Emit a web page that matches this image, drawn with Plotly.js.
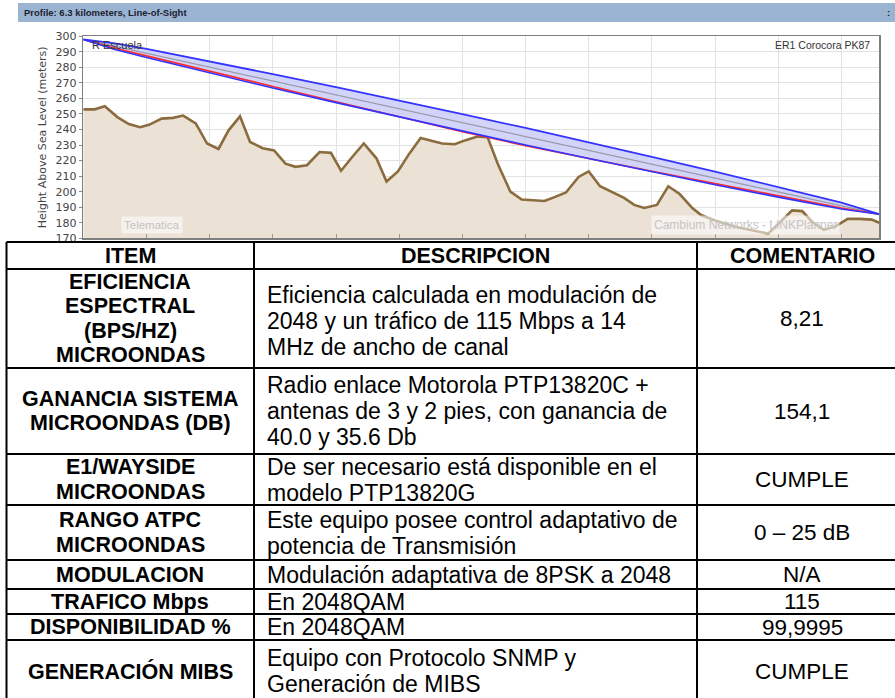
<!DOCTYPE html>
<html>
<head>
<meta charset="utf-8">
<script src="https://cdn.plot.ly/plotly-3.0.1.min.js"></script>
<style>html,body{margin:0;padding:0;background:#fff;}#chart{width:895px;height:698px;}</style>
</head>
<body>
<div id="chart"></div>
<script>
// ---- profile data (km, metres) ----
const terrainKm = [0,0.09,0.17,0.27,0.36,0.45,0.52,0.62,0.71,0.79,0.89,0.98,1.07,1.15,1.24,1.32,1.42,1.51,1.60,1.68,1.77,1.87,1.96,2.04,2.13,2.22,2.32,2.40,2.49,2.58,2.67,2.75,2.84,2.94,3.02,3.12,3.20,3.28,3.38,3.47,3.56,3.65,3.73,3.82,3.92,4.00,4.09,4.18,4.28,4.36,4.44,4.54,4.63,4.72,4.82,4.89,5.00,5.16,5.32,5.42,5.51,5.61,5.69,5.77,5.86,5.95,6.05,6.14,6.24,6.30];
const terrainM = [253,253,255,248,243.5,241.5,243,247,247.5,249,244,231,227.5,239.5,248.5,232,228,226.5,218,216,217,225.5,225,213.5,222.5,231,221.5,206.5,213,224.5,234.5,233,231,230.5,233,235.5,235,218,200,195,194.5,194,196.5,199.5,209.5,213,203.5,200,196,191.5,189.5,191.5,203.5,198.5,189.5,185,181.5,177.5,175,173,180,188,187.5,180.5,175.5,177.5,182.5,182.5,182,180];
const losKm = [0,0.25,0.5,1,1.5,2,2.5,3,3.5,4,4.5,5,5.5,6,6.3];
const losCenter = [298,293.5,289.1,280.1,271.2,262.3,253.4,244.4,235.5,226.6,217.6,208.7,199.8,190.9,185.5];
const fresnelUpper = [298,295.5,291.9,283.9,275.7,267.3,258.7,249.9,241.0,231.8,222.4,212.9,203.1,192.9,185.5];
const fresnelLower = [298,291.5,286.3,276.3,266.7,257.3,248.1,238.9,230.0,221.4,212.8,204.5,196.5,188.9,185.5];
const redLine = [298,292.3,287.4,277.4,267.7,257.9,248.3,238.6,229.6,221.3,213.1,205.2,197.3,189.5,185.5];

const profileTitle = 'Profile: 6.3 kilometers, Line-of-Sight';
const siteLeft = 'R Escuela';
const siteRight = 'ER1 Corocora PK87';
const yAxisTitle = 'Height Above Sea Level (meters)';
const watermarkLeft = 'Telematica';
const watermarkRight = 'Cambium Networks - LINKPlanner';

// ---- table data ----
const headers = ['ITEM', 'DESCRIPCION', 'COMENTARIO'];
const items = ['EFICIENCIA<br>ESPECTRAL<br>(BPS/HZ)<br>MICROONDAS', 'GANANCIA SISTEMA<br>MICROONDAS (DB)', 'E1/WAYSIDE<br>MICROONDAS', 'RANGO ATPC<br>MICROONDAS', 'MODULACION', 'TRAFICO Mbps', 'DISPONIBILIDAD %', 'GENERACIÓN MIBS'];
const descriptions = ['Eficiencia calculada en modulación de<br>2048 y un tráfico de 115 Mbps a 14<br>MHz de ancho de canal', 'Radio enlace Motorola PTP13820C +<br>antenas de 3 y 2 pies, con ganancia de<br>40.0 y 35.6 Db', 'De ser necesario está disponible en el<br>modelo PTP13820G', 'Este equipo posee control adaptativo de<br>potencia de Transmisión', 'Modulación adaptativa de 8PSK a 2048', 'En 2048QAM', 'En 2048QAM', 'Equipo con Protocolo SNMP y<br>Generación de MIBS'];
const comments = ['8,21', '154,1', 'CUMPLE', '0 – 25 dB', 'N/A', '115', '99,9995', 'CUMPLE'];

// ---- layout geometry (pixels) ----
const W = 895, H = 698;
const plotL = 83.3, plotR = 879.3, plotT = 36.3, plotB = 238.3;
const tableTop = 242, headerBottom = 269;
const rowEdges = [269, 368, 454, 505, 560, 589, 614, 640, 702];
const colEdges = [6.5, 254, 697, 907];
const col1C = 130, col2L = 265, col3C = 802;
const FONT = 'Liberation Sans, Arial, sans-serif';

const traces = [
  {x: terrainKm, y: terrainM, type: 'scatter', mode: 'lines', fill: 'tozeroy', fillcolor: '#ebe1d5',
   line: {color: '#8b6c3e', width: 2.6}, hoverinfo: 'skip', showlegend: false},
  {x: losKm, y: fresnelUpper, type: 'scatter', mode: 'lines', line: {width: 0, color: 'rgba(0,0,0,0)'}, hoverinfo: 'skip', showlegend: false},
  {x: losKm, y: fresnelLower, type: 'scatter', mode: 'lines', fill: 'tonexty', fillcolor: 'rgba(202,204,248,0.85)',
   line: {width: 0, color: 'rgba(0,0,0,0)'}, hoverinfo: 'skip', showlegend: false},
  {x: losKm, y: losCenter, type: 'scatter', mode: 'lines', line: {color: '#9a9aaa', width: 1.3}, hoverinfo: 'skip', showlegend: false},
  {x: losKm, y: redLine, type: 'scatter', mode: 'lines', line: {color: '#ff2a2a', width: 1.6}, hoverinfo: 'skip', showlegend: false},
  {x: losKm, y: fresnelUpper, type: 'scatter', mode: 'lines', line: {color: '#3434ff', width: 1.8}, hoverinfo: 'skip', showlegend: false},
  {x: losKm, y: fresnelLower, type: 'scatter', mode: 'lines', line: {color: '#3434ff', width: 1.6}, hoverinfo: 'skip', showlegend: false},
  {x: [], y: [], type: 'scatter', mode: 'markers', xaxis: 'x2', yaxis: 'y2', hoverinfo: 'skip', showlegend: false}
];

const shapes = [];
const annotations = [];

// title bar
shapes.push({type: 'rect', xref: 'x2', yref: 'y2', x0: 18, x1: 895, y0: 3, y1: 22, fillcolor: '#9bb4d2', line: {width: 0}, layer: 'above'});
annotations.push({xref: 'x2', yref: 'y2', x: 22, y: 12.5, xanchor: 'left', yanchor: 'middle', showarrow: false,
  text: '<b>' + profileTitle + '</b>', font: {family: FONT, size: 9.5, color: '#1c2230'}});
annotations.push({xref: 'x2', yref: 'y2', x: 888, y: 12.5, xanchor: 'center', yanchor: 'middle', showarrow: false,
  text: '<b>:</b>', font: {family: FONT, size: 9.5, color: '#1c2230'}});

// chart labels
annotations.push({xref: 'x2', yref: 'y2', x: 90, y: 44.5, xanchor: 'left', yanchor: 'middle', showarrow: false,
  text: siteLeft, font: {family: FONT, size: 11, color: '#333'}});
annotations.push({xref: 'x2', yref: 'y2', x: 872, y: 44.5, xanchor: 'right', yanchor: 'middle', showarrow: false,
  text: siteRight, font: {family: FONT, size: 10.5, color: '#333'}});
annotations.push({xref: 'x2', yref: 'y2', x: 152, y: 225, xanchor: 'center', yanchor: 'middle', showarrow: false,
  text: watermarkLeft, bgcolor: 'rgba(255,255,255,0.55)', borderpad: 2, font: {family: FONT, size: 11.5, color: '#c4c4c4'}});
annotations.push({xref: 'x2', yref: 'y2', x: 745, y: 225, xanchor: 'center', yanchor: 'middle', showarrow: false,
  text: watermarkRight, bgcolor: 'rgba(255,255,255,0.55)', borderpad: 2, font: {family: FONT, size: 12, color: '#c4c4c4'}});

// table grid
function hline(y) { shapes.push({type: 'line', xref: 'x2', yref: 'y2', x0: colEdges[0], x1: colEdges[3], y0: y, y1: y, line: {color: '#000', width: 2}, layer: 'above'}); }
function vline(x) { shapes.push({type: 'line', xref: 'x2', yref: 'y2', x0: x, x1: x, y0: tableTop, y1: H + 4, line: {color: '#000', width: 2}, layer: 'above'}); }
hline(tableTop);
rowEdges.forEach(hline);
colEdges.forEach(vline);

function addLines(text, x, yc, pitch, font, xanchor) {
  const lines = text.split('<br>');
  const n = lines.length;
  lines.forEach((ln, i) => {
    annotations.push({xref: 'x2', yref: 'y2', x: x, y: yc + (i - (n - 1) / 2) * pitch, xanchor: xanchor, yanchor: 'middle',
      showarrow: false, text: ln, font: font});
  });
}

const headFont = {family: FONT, size: 21.5, color: '#000', weight: 'bold'};
const itemFont = {family: FONT, size: 21.5, color: '#000', weight: 'bold'};
const descFont = {family: FONT, size: 23, color: '#000'};
const comFont = {family: FONT, size: 22.5, color: '#000'};
const headC = (tableTop + headerBottom) / 2 + 0.5;
addLines('<b>' + headers[0] + '</b>', col1C, headC, 24, headFont, 'center');
addLines('<b>' + headers[1] + '</b>', (colEdges[1] + colEdges[2]) / 2, headC, 24, headFont, 'center');
addLines('<b>' + headers[2] + '</b>', col3C, headC, 24, headFont, 'center');

for (let r = 0; r < items.length; r++) {
  const yc = (rowEdges[r] + rowEdges[r + 1]) / 2;
  const itemLines = items[r].split('<br>').map(s => '<b>' + s + '</b>').join('<br>');
  addLines(itemLines, col1C, yc, 24.3, itemFont, 'center');
  addLines(descriptions[r], col2L, yc + (r === 0 ? 2 : 0), 26, descFont, 'left');
  addLines(comments[r], col3C, yc, 24, comFont, 'center');
}

const layout = {
  width: W, height: H,
  margin: {l: 0, r: 0, t: 0, b: 0, pad: 0},
  paper_bgcolor: '#ffffff', plot_bgcolor: 'rgba(0,0,0,0)',
  showlegend: false,
  xaxis: {domain: [plotL / W, plotR / W], range: [0, 6.3], tick0: 0, dtick: 0.5, showticklabels: false,
    showgrid: true, gridcolor: '#e2e2e2', gridwidth: 1, zeroline: false,
    showline: true, mirror: true, linecolor: '#7f7f7f', linewidth: 1.5,
    ticks: 'inside', ticklen: 4, tickcolor: '#999', fixedrange: true},
  yaxis: {domain: [1 - plotB / H, 1 - plotT / H], range: [170, 300], tick0: 170, dtick: 10,
    showgrid: true, gridcolor: '#e2e2e2', gridwidth: 1, zeroline: false,
    showline: true, mirror: true, linecolor: '#7f7f7f', linewidth: 1.5,
    ticks: 'outside', ticklen: 3, tickcolor: '#888',
    tickfont: {family: 'DejaVu Sans, sans-serif', size: 11, color: '#444'},
    title: {text: yAxisTitle, font: {family: 'DejaVu Sans, sans-serif', size: 11, color: '#444'}, standoff: 6},
    fixedrange: true},
  xaxis2: {domain: [0, 1], range: [0, W], visible: false, anchor: 'y2', fixedrange: true},
  yaxis2: {domain: [0, 1], range: [H, 0], visible: false, anchor: 'x2', fixedrange: true},
  shapes: shapes,
  annotations: annotations
};

Plotly.newPlot('chart', traces, layout, {displayModeBar: false, staticPlot: true});
</script>
</body>
</html>
